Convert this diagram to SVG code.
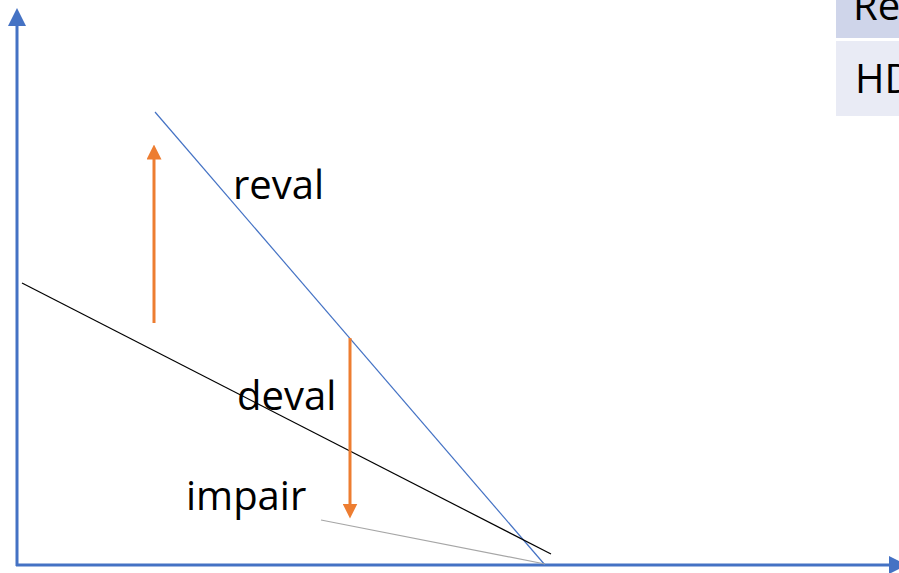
<svg xmlns="http://www.w3.org/2000/svg" width="899" height="573" viewBox="0 0 899 573">
<style>
.lbl{font-family:"Open Sans","Liberation Sans",sans-serif;font-size:40px;fill:#000}
.ax{stroke:#4472c4;stroke-width:3;fill:none}
.or{stroke:#ed7d31;stroke-width:3;fill:none}
</style>
<defs>
<marker id="ab" markerWidth="6" markerHeight="6" refX="3" refY="3" orient="auto" markerUnits="strokeWidth"><path d="M0,0 L6,3 L0,6 Z" fill="#4472c4"/></marker>
<marker id="ao" markerWidth="5" markerHeight="5" refX="2.5" refY="2.5" orient="auto" markerUnits="strokeWidth"><path d="M0,0 L5,2.5 L0,5 Z" fill="#ed7d31"/></marker>
</defs>
<g id="table">
<rect x="836" y="-2" width="63" height="40" fill="#cfd5ea"/>
<rect x="836" y="41" width="63" height="75" fill="#e9ebf5"/>
<text class="lbl" x="853" y="20">Re</text>
<text class="lbl" x="855" y="93">HD</text>
</g>
<g id="connectors">
<line class="ax" x1="17" y1="566" x2="17" y2="17" marker-end="url(#ab)"/>
<line class="ax" x1="16" y1="565" x2="898" y2="565" marker-end="url(#ab)"/>
<line x1="155" y1="112" x2="545" y2="565" stroke="#4472c4" stroke-width="1.2"/>
<line x1="22" y1="283" x2="551" y2="554" stroke="#000" stroke-width="1.2"/>
<line x1="321" y1="520" x2="545" y2="564" stroke="#a6a6a6" stroke-width="1.2"/>
<line class="or" x1="154" y1="323" x2="154" y2="152" marker-end="url(#ao)"/>
<line class="or" x1="350" y1="338" x2="350" y2="511" marker-end="url(#ao)"/>
</g>
<g id="labels">
<text class="lbl" x="233" y="199">reval</text>
<text class="lbl" x="237" y="410">deval</text>
<text class="lbl" x="186" y="510">impair</text>
</g>
</svg>
